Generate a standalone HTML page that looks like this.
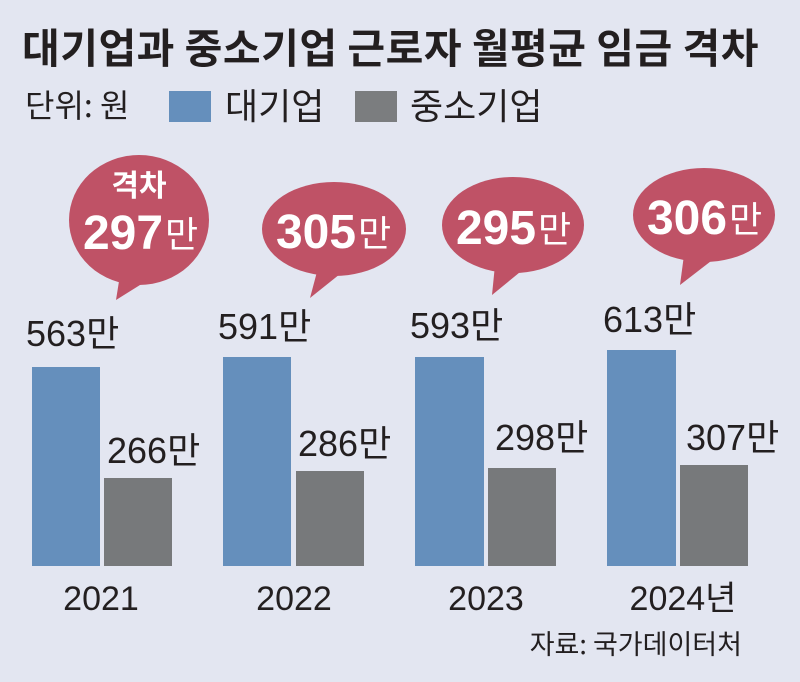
<!DOCTYPE html>
<html><head><meta charset="utf-8"><style>
html,body{margin:0;padding:0;background:#e3e6f1;}
svg{display:block;font-family:"Liberation Sans","Noto Sans CJK KR",sans-serif;}
</style></head><body>
<svg width="800" height="682" viewBox="0 0 800 682">
<rect width="800" height="682" fill="#e3e6f1"/>
<text x="22" y="63" font-size="41" font-weight="bold" fill="#231f20" letter-spacing="0.5" font-family="'Noto Sans CJK KR',sans-serif">대기업과 중소기업 근로자 월평균 임금 격차</text>
<text x="25" y="117" font-size="32" fill="#231f20" font-family="'Noto Sans CJK KR',sans-serif">단위: 원</text>
<rect x="169" y="91" width="42" height="31" fill="#658fbc"/>
<text x="225" y="119" font-size="36" fill="#231f20" font-family="'Noto Sans CJK KR',sans-serif">대기업</text>
<rect x="355" y="91" width="42" height="31" fill="#7b7d7f"/>
<text x="410" y="119" font-size="36" fill="#231f20" font-family="'Noto Sans CJK KR',sans-serif">중소기업</text>

<g fill="#bf5266">
<ellipse cx="139" cy="220" rx="70" ry="65"/><polygon points="120,275 148,280 116,300"/>
<ellipse cx="334" cy="229" rx="72" ry="47"/><polygon points="318,268 345,270 310,298"/>
<ellipse cx="513" cy="225" rx="71" ry="48"/><polygon points="495,265 525,268 492,295"/>
<ellipse cx="704" cy="215" rx="71" ry="47"/><polygon points="684,255 715,258 680,285"/>
</g>
<g fill="#fff" font-weight="bold" font-family="'Noto Sans CJK KR',sans-serif">
<text x="139" y="196" font-size="30" text-anchor="middle">격차</text>
<text x="83" y="249" font-size="48" font-family="'Liberation Sans',sans-serif" textLength="80" lengthAdjust="spacingAndGlyphs">297</text><text x="165" y="247" font-size="36" font-weight="normal">만</text>
<text x="276" y="248" font-size="48" font-family="'Liberation Sans',sans-serif" textLength="80" lengthAdjust="spacingAndGlyphs">305</text><text x="358" y="246" font-size="36" font-weight="normal">만</text>
<text x="456" y="244" font-size="48" font-family="'Liberation Sans',sans-serif" textLength="80" lengthAdjust="spacingAndGlyphs">295</text><text x="538" y="242" font-size="36" font-weight="normal">만</text>
<text x="647" y="234" font-size="48" font-family="'Liberation Sans',sans-serif" textLength="80" lengthAdjust="spacingAndGlyphs">306</text><text x="729" y="232" font-size="36" font-weight="normal">만</text>
</g>

<g fill="#658fbc">
<rect x="32" y="367" width="68" height="199"/>
<rect x="223" y="357" width="68" height="209"/>
<rect x="415" y="357" width="69" height="209"/>
<rect x="607" y="350" width="69" height="216"/>
</g>
<g fill="#77797b">
<rect x="104" y="478" width="68" height="88"/>
<rect x="296" y="471" width="68" height="95"/>
<rect x="488" y="468" width="68" height="98"/>
<rect x="680" y="465" width="68" height="101"/>
</g>
<g font-size="36" fill="#231f20">
<text x="26" y="346">563<tspan font-family="'Noto Sans CJK KR',sans-serif">만</tspan></text>
<text x="218" y="339">591<tspan font-family="'Noto Sans CJK KR',sans-serif">만</tspan></text>
<text x="410" y="338">593<tspan font-family="'Noto Sans CJK KR',sans-serif">만</tspan></text>
<text x="603" y="332">613<tspan font-family="'Noto Sans CJK KR',sans-serif">만</tspan></text>
<text x="107" y="463">266<tspan font-family="'Noto Sans CJK KR',sans-serif">만</tspan></text>
<text x="298" y="456">286<tspan font-family="'Noto Sans CJK KR',sans-serif">만</tspan></text>
<text x="495" y="450">298<tspan font-family="'Noto Sans CJK KR',sans-serif">만</tspan></text>
<text x="686" y="450">307<tspan font-family="'Noto Sans CJK KR',sans-serif">만</tspan></text>
</g>
<g font-size="34" fill="#231f20" text-anchor="middle">
<text x="101" y="610">2021</text>
<text x="294" y="610">2022</text>
<text x="486" y="610">2023</text>
<text x="683" y="610">2024<tspan font-family="'Noto Sans CJK KR',sans-serif">년</tspan></text>
</g>
<text x="742" y="654" font-size="27" fill="#231f20" text-anchor="end" font-family="'Noto Sans CJK KR',sans-serif">자료: 국가데이터처</text>
</svg>
</body></html>
